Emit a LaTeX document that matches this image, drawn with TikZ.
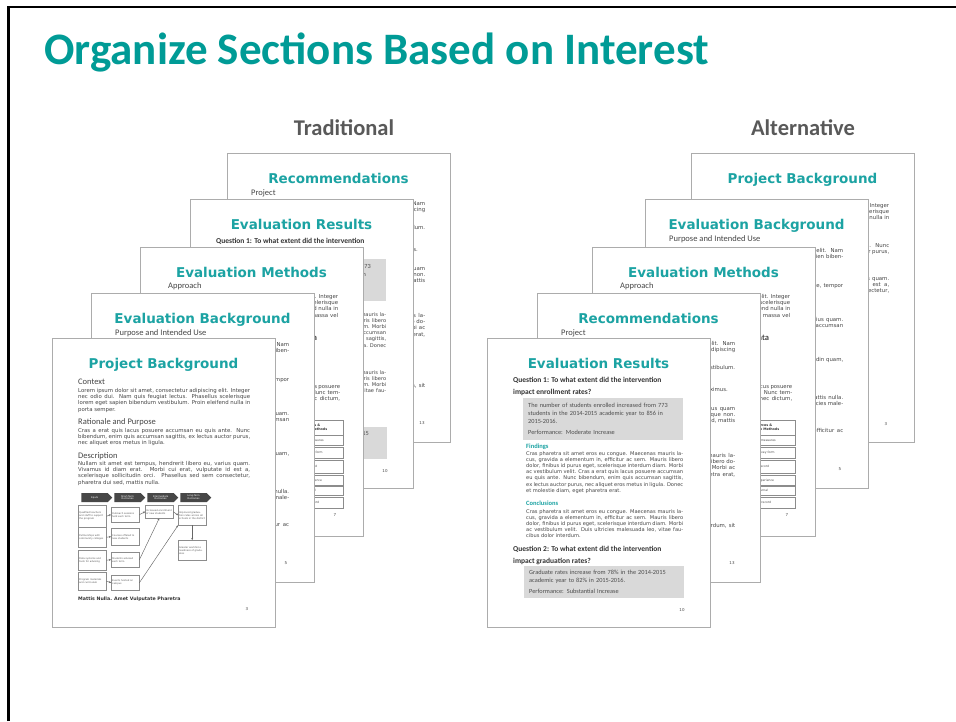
\documentclass[tikz,border=0pt]{standalone}
\usepackage{fontspec}
\setmainfont{Carlito}
\newfontfamily\pgsans{DejaVu Sans}
\usetikzlibrary{shapes.symbols,arrows.meta}

\definecolor{slideteal}{RGB}{0,155,150}
\definecolor{sheetteal}{RGB}{28,163,163}
\definecolor{labelgray}{RGB}{89,89,89}
\definecolor{sheetedge}{RGB}{172,172,172}
\definecolor{inkgray}{RGB}{70,70,70}
\definecolor{boxgray}{RGB}{217,217,217}

\newif\iffrontsheet

\tikzset{
  sheet/.style={draw=sheetedge,fill=white,line width=0.9pt},
  sheettitle/.style={font=\pgsans\bfseries\fontsize{13.5}{15}\selectfont,text=sheetteal,anchor=base,inner sep=0pt},
  subhead/.style={font=\fontsize{8.5}{9}\selectfont,text=inkgray,anchor=base west,inner sep=0pt},
  subheadbold/.style={subhead,font=\bfseries\fontsize{8.5}{9}\selectfont},
  sheettext/.style={font=\pgsans\fontsize{5.4}{6.3}\selectfont,text=inkgray,text width=#1,align=justify,anchor=north west,inner sep=0pt},
  sheettext/.default=172pt,
  resulttext/.style={sheettext=157pt,font=\pgsans\fontsize{5.1}{6.2}\selectfont},
  question/.style={font=\bfseries\fontsize{7.5}{9}\selectfont,text=black!80,anchor=base west,inner sep=0pt},
  finding/.style={font=\bfseries\fontsize{6.5}{7}\selectfont,text=sheetteal,anchor=base west,inner sep=0pt},
  resultbox/.style={fill=boxgray,anchor=north west,minimum width=160pt,text width=150pt,inner xsep=5pt,inner ysep=2pt,align=left,font=\fontsize{6.3}{7.6}\selectfont,text=black!70},
  chevron/.style={signal,signal to=east,fill=black!72,text=white,minimum width=31pt,minimum height=9pt,inner sep=0.5pt,align=center,font=\pgsans\fontsize{2.4}{2.8}\selectfont},
  logicbox/.style={draw=black!45,line width=0.4pt,fill=white,anchor=north west,inner sep=1pt,text width=26pt,align=left,font=\pgsans\fontsize{2.4}{3}\selectfont,text=black!65},
  flowline/.style={draw=black!60,line width=0.45pt,-{Stealth[length=2pt,width=2pt]}},
  tablecell/.style={draw=black!45,line width=0.4pt,fill=white,anchor=north west,inner sep=1.5pt,align=left,font=\pgsans\fontsize{3}{3.6}\selectfont,text=inkgray},
  tablehead/.style={tablecell,font=\pgsans\bfseries\fontsize{3.3}{4}\selectfont,text=black!80,minimum height=15pt},
  pagenum/.style={font=\pgsans\fontsize{4}{5}\selectfont,text=inkgray,inner sep=0pt},
  footbold/.style={font=\pgsans\bfseries\fontsize{4.7}{5}\selectfont,text=black!80,anchor=base west,inner sep=0pt},
  slidetitle/.style={font=\bfseries\fontsize{45}{50}\selectfont,text=slideteal,anchor=base west,inner sep=0pt},
  stacklabel/.style={font=\bfseries\fontsize{22.5}{25}\selectfont,text=labelgray,anchor=base,inner sep=0pt},
}

\newcommand\sheetbox{\filldraw[sheet] (0,0) rectangle (223,289);}

\newcommand\sheetProject{%
\sheetbox
\node[sheettitle] (title) at (111.5,30) {Project Background};
\node[sheettext] (ctxtext) at (26,50) {Lorem ipsum dolor sit amet, consectetur adipiscing elit. Integer nec odio dui. Nam quis feugiat lectus. Phasellus scelerisque lorem eget sapien bibendum vestibulum. Proin eleifend nulla in porta semper.};
\node[sheettext] (rattext) at (26,90) {Cras a erat quis lacus posuere accumsan eu quis ante. Nunc bibendum, enim quis accumsan sagittis, ex lectus auctor purus, nec aliquet eros metus in ligula.};
\node[sheettext] (desctext) at (26,123) {Nullam sit amet est tempus, hendrerit libero eu, varius quam. Vivamus id diam erat. Morbi cui erat, vulputate id est a, scelerisque sollicitudin orci. Phasellus sed sem consectetur, pharetra dui sed, mattis nulla.};
\node[pagenum] (num) at (195,271) {3};
\iffrontsheet
\node[subhead] (ctx) at (26,46) {Context};
\node[subhead] (rat) at (26,86.5) {Rationale and Purpose};
\node[subhead] (desc) at (26,120) {Description};
\foreach \x/\lab [count=\k] in {27/Inputs,60/{Short-Term\\Outcomes},93/{Intermediate\\Outcomes},126/{Long-Term\\Outcomes}}
  \node[chevron] (chev\k) at (\x+15.5,159.5) {\lab};
\foreach \y/\h/\txt [count=\k] in {167/22/{Qualified teachers and staff to support the program},189/20/{Partnerships with community colleges},212/20/{Data systems and tools for advising},234/18/{Program materials and curriculum}}
  \node[logicbox,minimum height=\h pt] (left\k) at (26,\y) {\txt};
\foreach \y/\h/\txt [count=\k] in {169/15/{Outreach sessions held each term},190/17/{Courses offered to new students},214/15/{Students advised each term},237/15/{Events hosted on campus}}
  \node[logicbox,minimum height=\h pt] (mid\k) at (59,\y) {\txt};
\node[logicbox,minimum height=13pt] (short1) at (93,167) {Increased enrollment of new students};
\node[logicbox,minimum height=20pt] (long1) at (126,167) {Improved graduation rates across all schools in the district};
\node[logicbox,minimum height=20pt] (long2) at (126,202) {Greater workforce readiness of graduates};
\foreach \k in {1,...,4}
  \draw[flowline] (left\k.east) -- (mid\k.west);
\draw[flowline] (mid1.east) -- (short1.west);
\draw[flowline] (short1.east) -- (long1.west);
\draw[flowline] (long1.south) -- (long2.north);
\draw[flowline] (mid3.east) -- (short1.south);
\draw[flowline] (mid4.east) -- (long1.south west);
\node[footbold] (foot) at (26,262) {Mattis Nulla. Amet Vulputate Pharetra};
\fi
}

\newcommand\sheetEvalBg{%
\sheetbox
\node[sheettitle] (title) at (111.5,30) {Evaluation Background};
\node[subhead] (purp) at (24,42) {Purpose and Intended Use};
\node[sheettext] (purptext) at (26,49) {Lorem ipsum dolor sit amet, consectetur adipiscing elit. Nam quis feugiat lectus dolor, integer nec lorem eget sapien bibendum. Proin eleifend nulla in porta semper.};
\node[sheettext] (questtext) at (26,84) {Cras a erat quis lacus posuere accumsan eu quis ante, tempor est, quis feugiat lectus ac magna.};
\node[sheettext] (staketext) at (26,118) {Nullam sit amet est tempus, hendrerit libero eu, varius quam. Vivamus id diam erat. Nunc bibendum, enim quis accumsan sagittis, auctor purus, nec aliquet pharetra.};
\node[sheettext] (modeltext) at (26,158) {Morbi cui erat, vulputate id est a, scelerisque sollicitudin quam, pellentesque dui sed.};
\node[sheettext] (moretext) at (26,196) {Phasellus sed sem consectetur, pharetra dui sed, mattis nulla. Donec et molestie diam, eget pharetra erat. Duis ultricies malesuada leo, vitae faucibus dolor interdum.};
\node[sheettext] (lasttext) at (26,229) {Maecenas mauris lacus, gravida a elementum in, efficitur ac sem, accumsan, nec purus, quis.};
\node[pagenum] (num) at (195,270) {5};
\iffrontsheet
\node[subhead] (quest) at (26,80) {Evaluation Questions};
\node[subhead] (stake) at (26,114) {Stakeholders};
\node[subhead] (model) at (26,154) {Logic Model};
\fi
}

\newcommand\sheetMethods{%
\sheetbox
\node[sheettitle] (title) at (111.5,30) {Evaluation Methods};
\node[subhead] (appr) at (28,41) {Approach};
\node[sheettext] (apprtext) at (26,47) {Lorem ipsum dolor sit amet, consectetur adipiscing elit. Integer nec odio dui. Nam quis feugiat lectus. Phasellus scelerisque lorem eget sapien bibendum vestibulum. Proin eleifend nulla in porta semper. Vivamus id diam erat, vel dictum nisl massa vel maximus.};
\node[subheadbold] (data) at (122,93) {Sources of Data};
\node[sheettext=80pt] (datatext) at (120,137) {Cras a erat quis lacus posuere accumsan lacinia. Nunc tempor dolor purus, nec dictum, eget maximus.};
\node[tablehead,text width=50pt] (srchead) at (150,173) {Data Sources \&\\Collection Methods};
\foreach \y/\h/\src [count=\k] in {188/10/{Enrollment measures},200/11/{Student survey form},213/13/{Transcript record}, 228/10/{Program experience},239/9/{Site visit journal},250/11/{Graduation record}}
  \node[tablecell,text width=50pt,minimum height=\h pt] (src\k) at (150,\y) {\src};
\node[pagenum] (num) at (195,268) {7};
\iffrontsheet
\node[subheadbold] (design) at (26,93) {Evaluation Design};
\node[sheettext=86pt] (designtext) at (26,98) {Nullam sit amet est tempus, hendrerit libero eu, varius quam. Vivamus id diam erat. Morbi cui erat, vulputate id est a, scelerisque sollicitudin orci. Phasellus sed sem consectetur, pharetra dui sed, mattis nulla.};
\node[tablehead,text width=29pt] (qhead) at (118,173) {Evaluation\\Question};
\foreach \y/\h/\q [count=\k] in {188/10/EQ1,200/11/EQ1,213/13/EQ2,228/10/EQ2,239/9/EQ3,250/11/EQ3}
  \node[tablecell,text width=29pt,minimum height=\h pt] (q\k) at (118,\y) {\q};
\fi
}

\newcommand\sheetResults{%
\sheetbox
\node[sheettitle] (title) at (111.5,30) {Evaluation Results};
\node[question] (q1a) at (26,44) {Question 1: To what extent did the intervention};
\node[resultbox,minimum height=42pt] (box1) at (36,60) {The number of students enrolled increased from 773\\students in the 2014-2015 academic year to 856 in\\2015-2016.\\[4pt]Performance: Moderate Increase};
\node[resulttext] (findtext) at (39,113) {Cras pharetra sit amet eros eu congue. Maecenas mauris lacus, gravida a elementum in, efficitur ac sem. Mauris libero dolor, finibus id purus eget, scelerisque interdum diam. Morbi ac vestibulum velit. Cras a erat quis lacus posuere accumsan eu quis ante. Nunc bibendum, enim quis accumsan sagittis, ex lectus auctor purus, nec aliquet eros metus in ligula. Donec et molestie diam, eget pharetra erat.};
\node[resulttext] (concltext) at (39,171) {Cras pharetra sit amet eros eu congue. Maecenas mauris lacus, gravida a elementum in, efficitur ac sem. Mauris libero dolor, finibus id purus eget, scelerisque interdum diam. Morbi ac vestibulum velit. Duis ultricies malesuada leo, vitae faucibus dolor interdum.};
\node[question] (q2a) at (26,213) {Question 2: To what extent did the intervention};
\node[resultbox,minimum height=32pt] (box2) at (37,228) {Graduate rates increase from 78\% in the 2014-2015\\academic year to 82\% in 2015-2016.\\[4pt]Performance: Substantial Increase};
\node[pagenum] (num) at (195,272) {10};
\iffrontsheet
\node[question] (q1b) at (26,56) {impact enrollment rates?};
\node[finding] (find) at (39,110) {Findings};
\node[finding] (concl) at (39,167) {Conclusions};
\node[question] (q2b) at (26,225) {impact graduation rates?};
\fi
}

\newcommand\sheetRecs{%
\sheetbox
\node[sheettitle] (title) at (111.5,30) {Recommendations};
\node[subhead] (proj) at (24,42) {Project};
\node[sheettext] (recA) at (26,48) {Lorem ipsum dolor sit amet, consectetur adipiscing elit. Nam quis feugiat lectus, sit amet tempor est, consectetur adipiscing elit.};
\node[sheettext] (recB) at (26,72) {Phasellus scelerisque lorem eget sapien bibendum vestibulum. Proin eleifend nulla in porta.};
\node[sheettext] (recC) at (26,94) {Vivamus id diam erat, vel dictum nisl massa, vitae maximus.};
\node[sheettext] (recD) at (26,113) {Nullam sit amet est tempus, hendrerit libero eu, varius quam vehicula. Morbi cui erat, vulputate id est a, scelerisque non. Phasellus sed sem consectetur, nullam pharetra dui sed, mattis elit.};
\node[sheettext] (recE) at (26,160) {Cras pharetra sit amet eros eu congue. Maecenas mauris lacus, gravida a elementum in, efficitur ac sem. Mauris libero dolor, finibus id purus eget, scelerisque interdum diam. Morbi ac vestibulum velit. Donec et molestie diam, eget pharetra erat, nec.};
\node[sheettext] (recF) at (26,230) {Duis ultricies malesuada leo, vitae faucibus dolor interdum, sit amet tempor.};
\node[pagenum] (num) at (195,270) {13};
\iffrontsheet
\node[subhead] (evalrec) at (26,154) {Evaluation};
\fi
}

\begin{document}
\begin{tikzpicture}[x=1pt,y=-1pt]
\useasboundingbox (0,0) rectangle (956,721);
\fill[white] (0,0) rectangle (956,721);
\draw[line width=2.7pt] (8.7,721) -- (8.7,7) -- (956,7);
\node[slidetitle] (heading) at (44,64) {Organize Sections Based on Interest};
\node[stacklabel] (trad) at (344,135) {Traditional};
\node[stacklabel] (alt) at (803,135) {Alternative};

\frontsheetfalse
\begin{scope}[shift={(227,153)},name prefix=t5-] \sheetRecs \end{scope}
\begin{scope}[shift={(190,199)},name prefix=t4-] \sheetResults \end{scope}
\begin{scope}[shift={(140,247)},name prefix=t3-] \sheetMethods \end{scope}
\begin{scope}[shift={(91,293)},name prefix=t2-] \sheetEvalBg \end{scope}
\frontsheettrue
\begin{scope}[shift={(52,338)},name prefix=t1-] \sheetProject \end{scope}

\frontsheetfalse
\begin{scope}[shift={(691,153)},name prefix=a5-] \sheetProject \end{scope}
\begin{scope}[shift={(645,199)},name prefix=a4-] \sheetEvalBg \end{scope}
\begin{scope}[shift={(592,247)},name prefix=a3-] \sheetMethods \end{scope}
\begin{scope}[shift={(537,293)},name prefix=a2-] \sheetRecs \end{scope}
\frontsheettrue
\begin{scope}[shift={(487,338)},name prefix=a1-] \sheetResults \end{scope}
\end{tikzpicture}
\end{document}
